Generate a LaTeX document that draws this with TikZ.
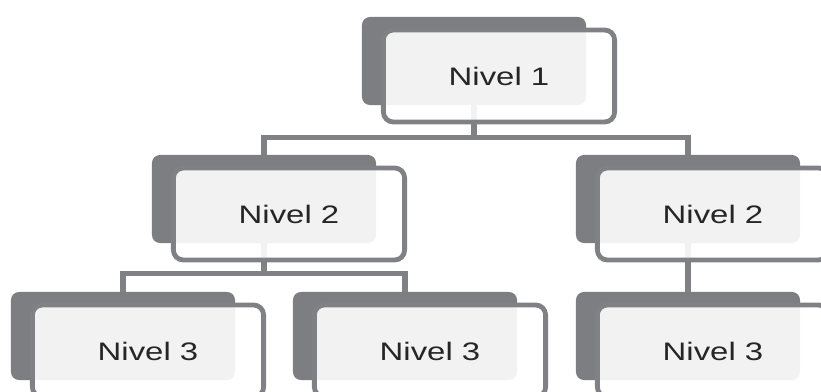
\documentclass[tikz,border=0pt]{standalone}
\usepackage{fontspec}
\setmainfont{Liberation Sans}
\usepackage{graphicx}
\usetikzlibrary{positioning}
\definecolor{boxgray}{RGB}{125,126,130}
\definecolor{linegray}{RGB}{128,129,132}
\newcommand{\lvltext}[1]{\scalebox{1.3}[1]{#1}}

\begin{document}
\begin{tikzpicture}[x=0.025cm,y=-0.025cm,
  back/.style={rectangle, fill=boxgray, rounded corners=0.2cm, inner sep=0pt,
    minimum width=5.6cm, minimum height=2.2cm},
  front/.style={rectangle, draw=linegray, line width=0.12cm, fill=white,
    fill opacity=0.9, text opacity=1, rounded corners=0.25cm, inner sep=0pt,
    minimum width=5.78cm, minimum height=2.3cm, xshift=0.625cm, yshift=-0.375cm,
    font=\fontsize{18}{20}\selectfont, text=black!85},
  link/.style={draw=linegray, line width=0.13cm}]
  \useasboundingbox (0,0) rectangle (821,392);
  \clip (0,0) rectangle (821,392);

  \node[back] (d1)  at (474,61)  {};
  \node[back] (d2a) at (264,199) {};
  \node[back] (d2b) at (688,199) {};
  \node[back] (d3a) at (123,336) {};
  \node[back] (d3b) at (405,336) {};
  \node[back] (d3c) at (688,336) {};

  \draw[link] (d1.south) -- ++(0,32) -| (d2a.north);
  \draw[link] (d1.south) -- ++(0,32) -| (d2b.north);
  \draw[link] (d2a.south) -- ++(0,30) -| (d3a.north);
  \draw[link] (d2a.south) -- ++(0,30) -| (d3b.north);
  \draw[link] (d2b.south) -- (d3c.north);

  \node[front] (f1)  at (d1)  {\lvltext{Nivel 1}};
  \node[front] (f2a) at (d2a) {\lvltext{Nivel 2}};
  \node[front] (f2b) at (d2b) {\lvltext{Nivel 2}};
  \node[front] (f3a) at (d3a) {\lvltext{Nivel 3}};
  \node[front] (f3b) at (d3b) {\lvltext{Nivel 3}};
  \node[front] (f3c) at (d3c) {\lvltext{Nivel 3}};
\end{tikzpicture}
\end{document}
